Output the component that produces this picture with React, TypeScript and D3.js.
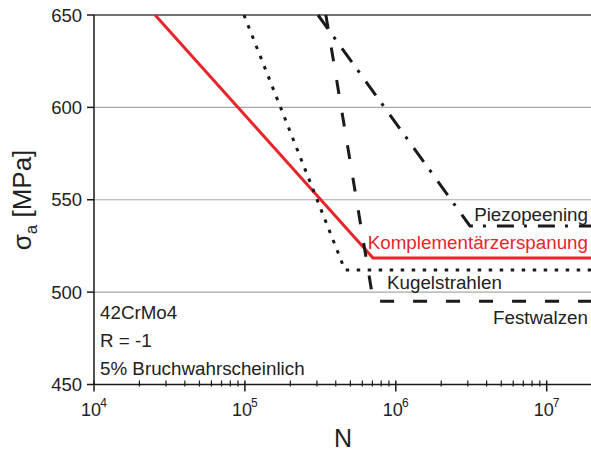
import React from "react";
import * as d3 from "d3";

// Data
const yTicks = [450, 500, 550, 600, 650];
const gridValues = [500, 550, 600];
const xMajorExp = [4, 5, 6, 7];
const seriesNames = ["Komplementärzerspanung", "Kugelstrahlen", "Festwalzen", "Piezopeening"];
const komplN = [25400, 706000, 2e7];
const komplS = [650, 518.5, 518.5];
const kugelN = [98600, 460000, 2e7];
const kugelS = [650, 512, 512];
const festN = [344000, 710000, 2e7];
const festS = [650, 495, 495];
const piezoN = [305000, 3.1e6, 2e7];
const piezoS = [650, 535.8, 535.8];
const infoLines = ["42CrMo4", "R = -1", "5% Bruchwahrscheinlich"];

const W = 591;
const H = 452;
const FONT = "'Liberation Sans', Arial, Helvetica, sans-serif";
const RED = "#e8252a";
const INK = "#1a1a1a";

export default function App() {
  const left = 94;
  const top = 15;
  const bottom = 384.5;
  const decade = 150.9;
  const x = d3.scaleLog().domain([1e4, 1e7]).range([left, left + 3 * decade]);
  const y = d3.scaleLinear().domain([450, 650]).range([bottom, top]);
  const right = W;

  const line = d3
    .line<[number, number]>()
    .x((d) => x(d[0]))
    .y((d) => y(d[1]));

  const zip = (a: number[], b: number[]) => a.map((v, i) => [v, b[i]] as [number, number]);

  const series = [
    { name: seriesNames[0], pts: zip(komplN, komplS), color: RED, dash: null as string | null },
    { name: seriesNames[1], pts: zip(kugelN, kugelS), color: INK, dash: "3.5,7.5" },
    { name: seriesNames[2], pts: zip(festN, festS), color: INK, dash: "14,19" },
    { name: seriesNames[3], pts: zip(piezoN, piezoS), color: INK, dash: "17,10,3,11" },
  ];

  const minorTicks: number[] = [];
  for (let e = 4; e <= 7; e++) {
    for (let m = 2; m <= 9; m++) {
      const v = m * Math.pow(10, e);
      if (x(v) < right) minorTicks.push(v);
    }
  }

  const labelRight = 588;
  const lblSize = 18.8;

  return (
    <svg
      width={W}
      height={H}
      style={{ position: "absolute", left: 0, top: 0, background: "#fff" }}
      fontFamily={FONT}
    >
      <defs>
        <clipPath id="plotclip">
          <rect x={left} y={top - 2} width={right - left} height={bottom - top + 2} />
        </clipPath>
      </defs>
      {/* grid */}
      {gridValues.map((v) => (
        <line key={v} x1={left} x2={right} y1={y(v)} y2={y(v)} stroke="#a8a8a8" strokeWidth={1.2} />
      ))}
      {/* top line */}
      <line x1={left} x2={right} y1={y(650)} y2={y(650)} stroke="#444" strokeWidth={1.6} />
      {/* axes */}
      <line x1={left} x2={left} y1={top} y2={bottom} stroke={INK} strokeWidth={1.5} />
      <line x1={left} x2={right} y1={bottom} y2={bottom} stroke={INK} strokeWidth={1.5} />
      {/* y ticks */}
      {yTicks.map((v) => (
        <g key={v}>
          <line x1={left - 7} x2={left} y1={y(v)} y2={y(v)} stroke={INK} strokeWidth={1.5} />
          <text x={82} y={y(v)} dy="0.36em" textAnchor="end" fontSize={18.5} fill="#222">
            {v}
          </text>
        </g>
      ))}
      {/* x ticks */}
      {minorTicks.map((v) => (
        <line key={v} x1={x(v)} x2={x(v)} y1={bottom - 4} y2={bottom + 2} stroke={INK} strokeWidth={1.2} />
      ))}
      {xMajorExp.map((e) => {
        const px = x(Math.pow(10, e));
        return (
          <g key={e}>
            <line x1={px} x2={px} y1={bottom - 4} y2={bottom + 7} stroke={INK} strokeWidth={1.5} />
            <text x={px - 3} y={415.5} textAnchor="middle" fontSize={18} fill="#222">
              10
            </text>
            <text x={px + 9.5} y={407} textAnchor="middle" fontSize={12} fill="#222">
              {e}
            </text>
          </g>
        );
      })}
      {/* series */}
      <g clipPath="url(#plotclip)">
        {series.map((s) => (
          <path
            key={s.name}
            d={line(s.pts) || ""}
            fill="none"
            stroke={s.color}
            strokeWidth={3}
            strokeDasharray={s.dash || undefined}
            strokeLinejoin="miter"
          />
        ))}
      </g>
      {/* series labels */}
      <text x={labelRight} y={y(piezoS[2]) - 4.5} textAnchor="end" fontSize={lblSize} fill="#222">
        {seriesNames[3]}
      </text>
      <text x={labelRight} y={y(komplS[2]) - 9} textAnchor="end" fontSize={lblSize} fill={RED}>
        {seriesNames[0]}
      </text>
      <text x={387} y={y(kugelS[2]) + 19} textAnchor="start" fontSize={lblSize} fill="#222">
        {seriesNames[1]}
      </text>
      <text x={labelRight} y={y(festS[2]) + 23} textAnchor="end" fontSize={lblSize} fill="#222">
        {seriesNames[2]}
      </text>
      {/* info */}
      {infoLines.map((t, i) => (
        <text key={t} x={100} y={319.3 + i * 28} fontSize={lblSize} fill="#222">
          {t}
        </text>
      ))}
      {/* axis titles */}
      <text x={343} y={447} textAnchor="middle" fontSize={25} fill="#222">
        N
      </text>
      <text transform="translate(31,200) rotate(-90)" textAnchor="middle" fontSize={26} fill="#222">
        σ
        <tspan fontSize={17} dy={6}>a</tspan>
        <tspan dy={-6}> [MPa]</tspan>
      </text>
    </svg>
  );
}
